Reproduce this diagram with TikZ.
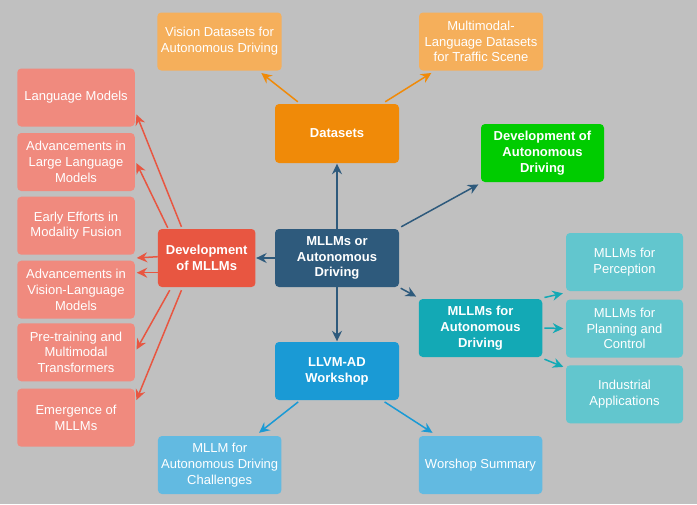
\documentclass[tikz,border=0pt]{standalone}
\usepackage{fontspec}
\setmainfont{Liberation Sans}
\usetikzlibrary{arrows.meta}
\definecolor{bg}{HTML}{C0C0C0}
\definecolor{salmon}{HTML}{F08A7E}
\definecolor{redm}{HTML}{E85641}
\definecolor{orangem}{HTML}{F08A08}
\definecolor{orangel}{HTML}{F5AF5B}
\definecolor{greenm}{HTML}{00CC00}
\definecolor{bluedark}{HTML}{2E5A7C}
\definecolor{tealm}{HTML}{13A9B5}
\definecolor{teall}{HTML}{62C6CE}
\definecolor{bluem}{HTML}{1A9AD5}
\definecolor{bluel}{HTML}{62BAE1}
\tikzset{
  box/.style={rectangle, rounded corners=4pt, inner sep=0pt, text=white, align=center,
    font=\fontsize{13}{15.8}\selectfont, minimum height=58pt},
  boldbox/.style={box, font=\fontsize{13}{15.8}\selectfont\bfseries},
  arr/.style={line width=1.5pt, -{Stealth[length=10.5pt,width=10pt,inset=3.5pt]}, shorten >=0.5pt},
}
\begin{document}
\begin{tikzpicture}[x=1pt,y=-1pt]
\fill[bg] (0,0) rectangle (697,504);
\useasboundingbox (0,0) rectangle (697,504);
% left column
\node[box, fill=salmon, minimum width=117.5pt] (lm) at (76,97.5) {Language Models};
\node[box, fill=salmon, minimum width=117.5pt] (allm) at (76,162) {Advancements in\\Large Language\\Models};
\node[box, fill=salmon, minimum width=117.5pt] (ee) at (76,225.7) {Early Efforts in\\Modality Fusion};
\node[box, fill=salmon, minimum width=117.5pt] (avlm) at (76,289.7) {Advancements in\\Vision-Language\\Models};
\node[box, fill=salmon, minimum width=117.5pt] (pt) at (76,352.3) {Pre-training and\\Multimodal\\Transformers};
\node[box, fill=salmon, minimum width=117.5pt] (em) at (76,417.7) {Emergence of\\MLLMs};
% main
\node[boldbox, fill=redm, minimum width=97.5pt] (devm) at (206.7,258) {Development\\of MLLMs};
\node[boldbox, fill=bluedark, minimum width=124pt] (center) at (337,258) {MLLMs or\\Autonomous\\Driving};
\node[boldbox, fill=orangem, minimum width=124pt, minimum height=59pt] (ds) at (337,133.5) {Datasets};
\node[box, fill=orangel, minimum width=124.4pt] (vis) at (219.5,41.5) {Vision Datasets for\\Autonomous Driving};
\node[box, fill=orangel, minimum width=124pt] (mm) at (481,41.5) {Multimodal-\\Language Datasets\\for Traffic Scene};
\node[boldbox, fill=greenm, minimum width=123pt] (devad) at (542.5,153) {Development of\\Autonomous\\Driving};
\node[boldbox, fill=tealm, minimum width=123.5pt] (mad) at (480.5,328) {MLLMs for\\Autonomous\\Driving};
\node[boldbox, fill=bluem, minimum width=124pt] (llvm) at (337,371) {LLVM-AD\\Workshop};
\node[box, fill=bluel, minimum width=123.5pt] (ch) at (219.7,465) {MLLM for\\Autonomous Driving\\Challenges};
\node[box, fill=bluel, minimum width=123.5pt] (ws) at (480.5,465) {Worshop Summary};
\node[box, fill=teall, minimum width=117pt] (per) at (624.5,262) {MLLMs for\\Perception};
\node[box, fill=teall, minimum width=117pt] (plan) at (624.5,328.5) {MLLMs for\\Planning and\\Control};
\node[box, fill=teall, minimum width=117pt] (ind) at (624.5,394.3) {Industrial\\Applications};
% arrows from center
\draw[arr, bluedark] (center.north) -- (ds.south);
\draw[arr, bluedark] ([xshift=2pt,yshift=2pt]center.north east) -- ([xshift=-2pt,yshift=-2pt]devad.south west);
\draw[arr, bluedark] (center.west) -- (devm.east);
\draw[arr, bluedark] ([xshift=1.5pt,yshift=-1pt]center.south east) -- ([xshift=-2pt,yshift=2pt]mad.north west);
\draw[arr, bluedark] (center.south) -- (llvm.north);
% datasets
\draw[arr, orangem] ([xshift=23pt,yshift=2pt]ds.north west) -- ([xshift=-21pt,yshift=-2pt]vis.south east);
\draw[arr, orangem] ([xshift=-14pt,yshift=2pt]ds.north east) -- ([xshift=13pt,yshift=-2pt]mm.south west);
% dev MLLMs
\draw[arr, redm] ([xshift=23.7pt,yshift=2pt]devm.north west) -- ([xshift=1.3pt,yshift=12.7pt]lm.south east);
\draw[arr, redm] ([xshift=10pt,yshift=1pt]devm.north west) -- ([xshift=1.3pt,yshift=-0.7pt]allm.east);
\draw[arr, redm] ([yshift=1.3pt]devm.west) -- ([xshift=1.3pt]devm.west -| ee.east);
\draw[arr, redm] ([yshift=-14.7pt]devm.west) -- ([xshift=1.3pt,yshift=-14.7pt]devm.west -| avlm.east);
\draw[arr, redm] ([xshift=12pt,yshift=-3pt]devm.south west) -- ([xshift=1.3pt,yshift=2.3pt]pt.east);
\draw[arr, redm] ([xshift=23.7pt,yshift=-3pt]devm.south west) -- ([xshift=1.3pt,yshift=-12pt]em.north east);
% MLLMs for AD
\draw[arr, tealm] ([xshift=2pt,yshift=1.3pt]mad.north east) -- ([xshift=-2.5pt,yshift=-2pt]per.south west);
\draw[arr, tealm] ([xshift=2pt]mad.east) -- ([xshift=-2pt]plan.west);
\draw[arr, tealm] ([xshift=2pt,yshift=-2pt]mad.south east) -- ([xshift=-2pt,yshift=-2pt]ind.north west);
% LLVM-AD
\draw[arr, bluem] ([xshift=23.4pt,yshift=-1.7pt]llvm.south west) -- ([xshift=-23pt,yshift=2.7pt]ch.north east);
\draw[arr, bluem] ([xshift=-14.6pt,yshift=-1.7pt]llvm.south east) -- ([xshift=14.4pt,yshift=2.7pt]ws.north west);
\end{tikzpicture}
\end{document}
